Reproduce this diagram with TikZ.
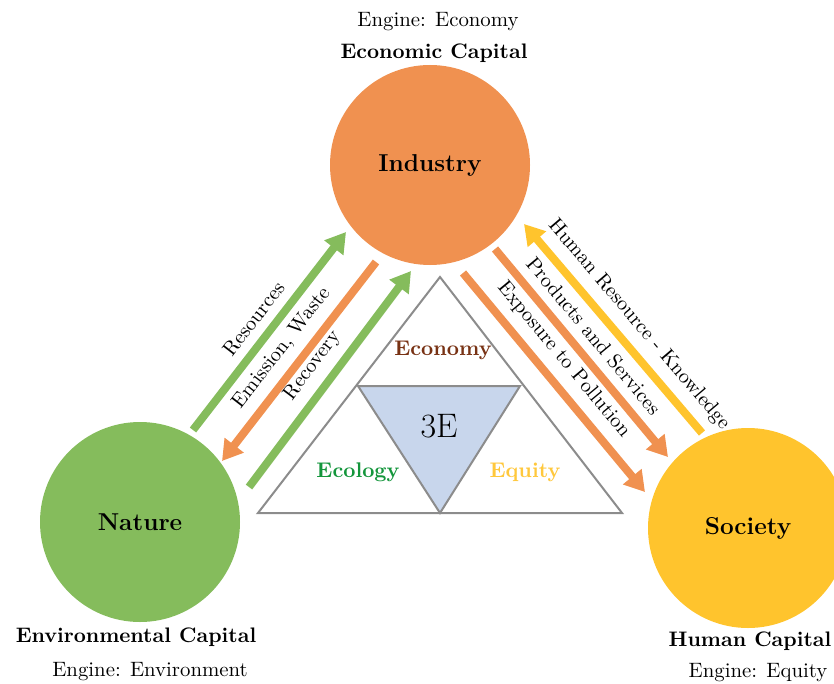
\documentclass[tikz,border=0pt]{standalone}
\usepackage{fontspec}
\usetikzlibrary{arrows.meta,calc}
\definecolor{indC}{RGB}{240,145,80}
\definecolor{natC}{RGB}{133,188,92}
\definecolor{socC}{RGB}{255,196,45}
\definecolor{econT}{RGB}{120,50,20}
\definecolor{ecolT}{RGB}{20,150,60}
\definecolor{equT}{RGB}{255,200,60}
\definecolor{triF}{RGB}{200,214,236}
\definecolor{triL}{RGB}{140,140,140}
\begin{document}
\begin{tikzpicture}[x=0.5pt,y=-0.5pt,
  hub/.style={circle,minimum size=100pt,inner sep=0pt,font=\fontsize{12.2}{14}\selectfont\bfseries},
  flow/.style={line width=4pt,-{Triangle[width=11.5pt,length=10pt]}},
  flowlab/.style={font=\fontsize{10.2}{12}\selectfont,text=black,inner sep=4.5pt,sloped,above},
  captxt/.style={font=\fontsize{10.5}{12}\selectfont\bfseries},
  engtxt/.style={font=\fontsize{10.4}{12}\selectfont},
  tri/.style={draw=triL,line width=1pt,line join=miter},
  part/.style={font=\fontsize{10.6}{12}\selectfont\bfseries}]
\useasboundingbox (0,0) rectangle (834,684);
\clip (0,0) rectangle (834,684);

% hubs
\node[hub,fill=indC] (ind) at (430,165) {Industry};
\node[hub,fill=natC] (nat) at (140,522) {Nature};
\node[hub,fill=socC] (soc) at (748,528) {Society};

% captions
\node[engtxt] (engI) at (438,22) {Engine: Economy};
\node[captxt] (capI) at (434,53) {Economic Capital};
\node[captxt] (capN) at (136,637) {Environmental Capital};
\node[engtxt] (engN) at (150,672) {Engine: Environment};
\node[captxt] (capS) at (750,641) {Human Capital};
\node[engtxt] (engS) at (758,673) {Engine: Equity};

% 3E triangle
\coordinate (tT) at (440,277);
\coordinate (tL) at (258,513);
\coordinate (tR) at (622,513);
\coordinate (iL) at (358,386);
\coordinate (iR) at (520,386);
\coordinate (iB) at (440,513);
\draw[tri,fill=white] (tT) -- (tR) -- (tL) -- cycle;
\draw[tri,fill=triF] (iL) -- (iR) -- (iB) -- cycle;
\node[part,text=econT] (econ) at (443,350) {Economy};
\node[part,text=ecolT] (ecol) at (358,472) {Ecology};
\node[part,text=equT] (equ) at (525,472) {Equity};
\node[font=\fontsize{17}{20}\selectfont] (three) at (439,426) {3E};

% arrow end points
\coordinate (r1) at (193,430); \coordinate (r2) at (346,232);
\coordinate (e1) at (376,262); \coordinate (e2) at (222,461);
\coordinate (v1) at (249,487); \coordinate (v2) at (411,271);
\coordinate (x1) at (463,273); \coordinate (x2) at (645,492);
\coordinate (p1) at (495,249); \coordinate (p2) at (668,457);
\coordinate (h1) at (702,433); \coordinate (h2) at (524,224);

\draw[flow,natC] (r1) -- node[flowlab,pos=0.5] (lr) {Resources} (r2);
\draw[flow,indC] (e1) -- node[flowlab,pos=0.5] (le) {Emission, Waste} (e2);
\draw[flow,natC] (v1) -- node[flowlab,pos=0.5] (lv) {Recovery} (v2);
\draw[flow,indC] (x1) -- node[flowlab,pos=0.46] (lx) {Exposure to Pollution} (x2);
\draw[flow,indC] (p1) -- node[flowlab,pos=0.48] (lp) {Products and Services} (p2);
\draw[flow,socC] (h1) -- node[flowlab,pos=0.45] (lh) {Human Resource - Knowledge} (h2);
\end{tikzpicture}
\end{document}
